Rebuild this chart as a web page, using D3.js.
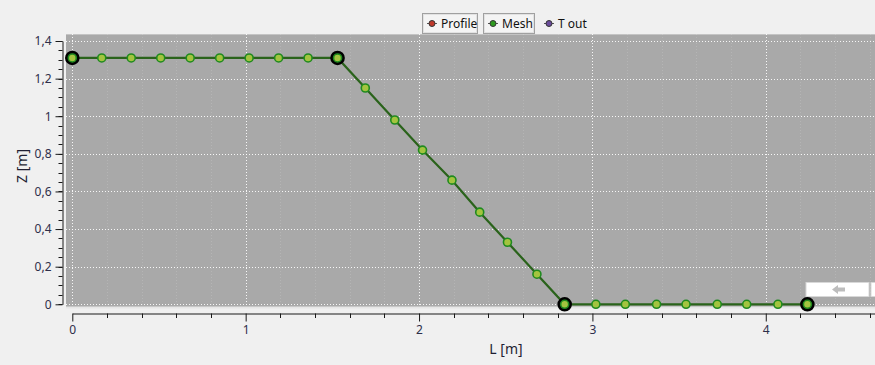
<!DOCTYPE html>
<html>
<head>
<meta charset="utf-8">
<script src="https://cdn.jsdelivr.net/npm/d3@7"></script>
<style>
  html, body { margin: 0; padding: 0; background: #f0f0f0; }
  svg { display: block; }
  text { font-family: "Noto Sans", "DejaVu Sans", sans-serif; }
</style>
</head>
<body>
<svg id="chart" width="875" height="365"></svg>
<script>
// Mesh nodes along the channel profile: length L [m] and elevation Z [m]
const meshL = [0, 0.17, 0.34, 0.51, 0.68, 0.85, 1.02, 1.19, 1.36, 1.53,
               1.69, 1.86, 2.02, 2.19, 2.35, 2.51, 2.68, 2.84,
               3.02, 3.19, 3.37, 3.54, 3.72, 3.89, 4.07, 4.24];
const meshZ = [1.31, 1.31, 1.31, 1.31, 1.31, 1.31, 1.31, 1.31, 1.31, 1.31,
               1.15, 0.98, 0.82, 0.66, 0.49, 0.33, 0.16, 0,
               0, 0, 0, 0, 0, 0, 0, 0];
// Profile break points
const profileL = [0, 1.53, 2.84, 4.24];
const profileZ = [1.31, 1.31, 0, 0];

const xMajorTicks = [0, 1, 2, 3, 4];
const yMajorTicks = [0, 0.2, 0.4, 0.6, 0.8, 1, 1.2, 1.4];
const legendNames = ["Profile", "Mesh", "T out"];
const legendColors = ["#c0392b", "#2e9a1e", "#6a4c9c"];

const fmt = v => String(+v.toFixed(2)).replace(".", ",");

const svg = d3.select("#chart");
const x = d3.scaleLinear().domain([0, 4.63]).range([72.3, 875]);
const y = d3.scaleLinear().domain([0, 1.4]).range([304.3, 41]);

// plot background
svg.append("rect").attr("x", 66).attr("y", 34).attr("width", 809).attr("height", 273)
  .attr("fill", "#a9a9a9");
svg.append("line").attr("x1", 66).attr("x2", 875).attr("y1", 34.5).attr("y2", 34.5)
  .attr("stroke", "#c4c4c4");
svg.append("line").attr("x1", 66).attr("x2", 875).attr("y1", 307.5).attr("y2", 307.5)
  .attr("stroke", "#e6e6e6").attr("stroke-width", 2);

// minor vertical grid every 0.2
const xMinor = d3.range(0, 4.61, 0.2).filter(v => Math.abs(v - Math.round(v)) > 1e-6);
const grid = svg.append("g");
grid.selectAll(".vminor").data(xMinor).join("line")
  .attr("x1", d => Math.round(x(d)) + 0.5).attr("x2", d => Math.round(x(d)) + 0.5)
  .attr("y1", 34).attr("y2", 307)
  .attr("stroke", "#ffffff").attr("stroke-opacity", 0.14)
  .attr("stroke-dasharray", "1,2");
grid.selectAll(".vmajor").data(xMajorTicks).join("line")
  .attr("x1", d => Math.round(x(d)) + 0.5).attr("x2", d => Math.round(x(d)) + 0.5)
  .attr("y1", 34).attr("y2", 307)
  .attr("stroke", "#ffffff").attr("stroke-opacity", 0.9)
  .attr("stroke-dasharray", "1,2");
grid.selectAll(".hmajor").data(yMajorTicks).join("line")
  .attr("x1", 66).attr("x2", 875)
  .attr("y1", d => Math.round(y(d)) + 0.5).attr("y2", d => Math.round(y(d)) + 0.5)
  .attr("stroke", "#ffffff").attr("stroke-opacity", 0.9)
  .attr("stroke-dasharray", "1,2");

// scroll widget at lower right
svg.append("rect").attr("x", 806).attr("y", 282.5).attr("width", 63).attr("height", 14)
  .attr("fill", "#ffffff").attr("stroke", "#d8d8d8");
svg.append("rect").attr("x", 871).attr("y", 282.5).attr("width", 10).attr("height", 14)
  .attr("fill", "#ffffff").attr("stroke", "#d8d8d8");
svg.append("path")
  .attr("d", "M832,289.5 L838,285 L838,287.5 L845,287.5 L845,291.5 L838,291.5 L838,294 Z")
  .attr("fill", "#bdbdbd");

// axes
const axisColor = "#1a1a1a";
const labelColor = "#2e2e4a";
const yAxis = svg.append("g").attr("transform", "translate(62.5,0)")
  .call(d3.axisLeft(y).tickValues(yMajorTicks).tickFormat(fmt).tickSize(7).tickPadding(4).tickSizeOuter(0));
const yMinor = d3.range(0, 1.401, 0.05);
svg.append("g").selectAll("line").data(yMinor).join("line")
  .attr("x1", 58.5).attr("x2", 62.5)
  .attr("y1", d => Math.round(y(d)) + 0.5).attr("y2", d => Math.round(y(d)) + 0.5)
  .attr("stroke", axisColor);

const xAxis = svg.append("g").attr("transform", "translate(0,313.5)")
  .call(d3.axisBottom(x).tickValues(xMajorTicks).tickFormat(fmt).tickSize(8).tickPadding(4).tickSizeOuter(0));
svg.append("g").selectAll("line").data(xMinor).join("line")
  .attr("x1", d => Math.round(x(d)) + 0.5).attr("x2", d => Math.round(x(d)) + 0.5)
  .attr("y1", 313.5).attr("y2", 318)
  .attr("stroke", axisColor);

[xAxis, yAxis].forEach(a => {
  a.selectAll("path, line").attr("stroke", axisColor);
  a.selectAll("text").attr("fill", labelColor).style("font-size", "12px");
});

svg.append("text").attr("x", 506).attr("y", 354)
  .attr("text-anchor", "middle").style("font-size", "14px").attr("fill", "#1f1f33")
  .text("L [m]");
svg.append("text").attr("transform", "translate(27,166) rotate(-90)")
  .attr("text-anchor", "middle").style("font-size", "14px").attr("fill", "#1f1f33")
  .text("Z [m]");

// data marks
const blur = svg.append("defs").append("filter").attr("id", "soft");
blur.append("feGaussianBlur").attr("stdDeviation", 0.5);

const meshPts = meshL.map((l, i) => [l, meshZ[i]]);
const profPts = profileL.map((l, i) => [l, profileZ[i]]);
const line = d3.line().x(d => x(d[0])).y(d => y(d[1]));

svg.append("path").datum(meshPts).attr("d", line)
  .attr("fill", "none").attr("stroke", "#2a631b").attr("stroke-width", 2.2);

svg.append("g").attr("filter", "url(#soft)").selectAll("circle").data(profPts).join("circle")
  .attr("cx", d => x(d[0])).attr("cy", d => y(d[1])).attr("r", 5.8)
  .attr("fill", "#111").attr("stroke", "#000").attr("stroke-width", 3);

svg.append("g").selectAll("circle").data(meshPts).join("circle")
  .attr("cx", d => x(d[0])).attr("cy", d => y(d[1])).attr("r", 4)
  .attr("fill", "#a3c43f").attr("stroke", "#1f8a1f").attr("stroke-width", 1.6);

// legend
const legendX = [422, 483, 539];
const legendW = [55, 51, 55];
const lg = svg.append("g");
legendNames.forEach((name, i) => {
  const g = lg.append("g").attr("transform", `translate(${legendX[i]},13)`);
  if (i < 2) {
    g.append("rect").attr("x", 0.5).attr("y", 0.5).attr("width", legendW[i]).attr("height", 20)
      .attr("fill", "#f4f4f4").attr("stroke", "#a0a0a0");
    g.append("rect").attr("x", 1.5).attr("y", 1.5).attr("width", legendW[i] - 2).attr("height", 18)
      .attr("fill", "none").attr("stroke", "#e2e2e2");
  }
  g.append("line").attr("x1", 5).attr("x2", 15).attr("y1", 10.5).attr("y2", 10.5)
    .attr("stroke", "#555").attr("stroke-width", 1);
  g.append("circle").attr("cx", 10).attr("cy", 10.5).attr("r", 3)
    .attr("fill", legendColors[i]).attr("stroke", "#333").attr("stroke-width", 1);
  g.append("text").attr("x", 19).attr("y", 15)
    .style("font-size", "12px").attr("fill", "#111").text(name);
});
</script>
</body>
</html>
